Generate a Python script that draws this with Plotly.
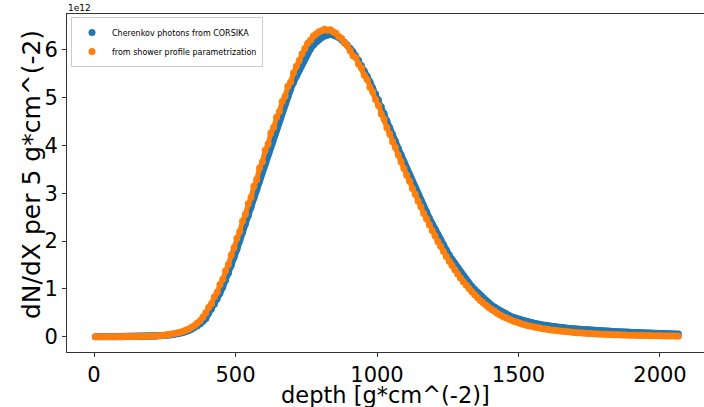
import plotly.graph_objects as go

# depth grid: first bin centre and bin step (g/cm^2)
DEPTH_START = 5
DEPTH_STEP = 10

# dN/dX per 5 g/cm^2, in units of 1e12
corsika = [
    0, 0, 0, 0, 0, 0, 0, 0, 0.001, 0.001,
    0.001, 0.002, 0.002, 0.003, 0.003, 0.004, 0.005, 0.006, 0.007, 0.008,
    0.010, 0.012, 0.015, 0.019, 0.023, 0.028, 0.034, 0.041, 0.050, 0.060,
    0.073, 0.089, 0.108, 0.131, 0.158, 0.190, 0.228, 0.272, 0.323, 0.382,
    0.49, 0.58, 0.68, 0.79, 0.91, 1.04, 1.18, 1.33, 1.49, 1.66,
    1.83, 2.01, 2.18, 2.36, 2.53, 2.71, 2.90, 3.08, 3.27, 3.46,
    3.64, 3.83, 4.01, 4.19, 4.37, 4.53, 4.70, 4.86, 5.02, 5.18,
    5.32, 5.45, 5.58, 5.70, 5.82, 5.93, 6.02, 6.10, 6.17, 6.22,
    6.26, 6.29, 6.31, 6.32, 6.31, 6.29, 6.26, 6.21, 6.16, 6.10,
    6.03, 5.96, 5.87, 5.78, 5.67, 5.56, 5.45, 5.33, 5.20, 5.08,
    4.95, 4.81, 4.67, 4.52, 4.37, 4.23, 4.09, 3.94, 3.80, 3.65,
    3.51, 3.38, 3.24, 3.11, 2.98, 2.86, 2.73, 2.61, 2.48, 2.36,
    2.25, 2.14, 2.03, 1.92, 1.81, 1.71, 1.62, 1.53, 1.44, 1.35,
    1.27, 1.19, 1.12, 1.05, 0.99, 0.93, 0.87, 0.81, 0.76, 0.71,
    0.66, 0.62, 0.58, 0.54, 0.51, 0.48, 0.45, 0.42, 0.40, 0.38,
    0.36, 0.34, 0.325, 0.31, 0.295, 0.282, 0.27, 0.258, 0.247, 0.237,
    0.227, 0.219, 0.211, 0.203, 0.196, 0.19, 0.184, 0.178, 0.172, 0.166,
    0.160, 0.156, 0.152, 0.148, 0.144, 0.140, 0.136, 0.132, 0.128, 0.124,
    0.120, 0.117, 0.114, 0.111, 0.108, 0.105, 0.102, 0.099, 0.096, 0.093,
    0.090, 0.088, 0.085, 0.083, 0.080, 0.078, 0.076, 0.073, 0.071, 0.069,
    0.067, 0.065, 0.063, 0.061, 0.059, 0.057, 0.055,
]

parametrization = [
    0, 0, 0, 0, 0, 0, 0, 0.001, 0.001, 0.001,
    0.002, 0.002, 0.003, 0.004, 0.005, 0.006, 0.007, 0.009, 0.010, 0.012,
    0.014, 0.017, 0.021, 0.026, 0.032, 0.039, 0.047, 0.057, 0.069, 0.081,
    0.095, 0.112, 0.138, 0.163, 0.20, 0.236, 0.285, 0.333, 0.41, 0.50,
    0.61, 0.69, 0.83, 0.93, 1.09, 1.20, 1.38, 1.51, 1.71, 1.86,
    2.06, 2.20, 2.42, 2.56, 2.78, 2.92, 3.15, 3.29, 3.53, 3.66,
    3.90, 4.03, 4.26, 4.38, 4.59, 4.71, 4.92, 5.03, 5.24, 5.33,
    5.52, 5.66, 5.78, 5.92, 6.03, 6.14, 6.20, 6.29, 6.33, 6.38,
    6.40, 6.43, 6.41, 6.42, 6.38, 6.35, 6.28, 6.24, 6.15, 6.09,
    5.98, 5.88, 5.84, 5.70, 5.62, 5.47, 5.38, 5.22, 5.12, 4.96,
    4.84, 4.66, 4.55, 4.37, 4.24, 4.08, 3.96, 3.80, 3.66, 3.52,
    3.38, 3.25, 3.10, 2.98, 2.84, 2.72, 2.58, 2.47, 2.34, 2.22,
    2.11, 1.99, 1.89, 1.78, 1.68, 1.58, 1.49, 1.40, 1.31, 1.23,
    1.15, 1.08, 1.01, 0.94, 0.88, 0.82, 0.76, 0.71, 0.66, 0.61,
    0.57, 0.53, 0.49, 0.455, 0.425, 0.395, 0.37, 0.345, 0.32, 0.30,
    0.28, 0.262, 0.246, 0.231, 0.217, 0.204, 0.192, 0.180, 0.169, 0.159,
    0.150, 0.142, 0.135, 0.128, 0.121, 0.114, 0.108, 0.102, 0.096, 0.090,
    0.085, 0.081, 0.076, 0.072, 0.068, 0.065, 0.062, 0.059, 0.056, 0.053,
    0.050, 0.048, 0.045, 0.043, 0.041, 0.039, 0.037, 0.035, 0.033, 0.032,
    0.030, 0.029, 0.027, 0.026, 0.025, 0.024, 0.022, 0.021, 0.020, 0.019,
    0.018, 0.017, 0.016, 0.015, 0.014, 0.013, 0.012,
]

series_names = ["Cherenkov photons from CORSIKA", "from shower profile parametrization"]
x_ticks = [0, 500, 1000, 1500, 2000]
y_ticks = [0, 1, 2, 3, 4, 5, 6]
x_title = "depth [g*cm^(-2)]"
y_title = "dN/dX per 5 g*cm^(-2)"
offset_text = "1e12"

depth_c = [DEPTH_START + DEPTH_STEP * i for i in range(len(corsika))]
depth_p = [DEPTH_START + DEPTH_STEP * i for i in range(len(parametrization))]

BLUE = "#1f77b4"
ORANGE = "#ff7f0e"
FONT = "DejaVu Sans"

fig = go.Figure()
# continuous bands behind the dense scatters
fig.add_trace(go.Scatter(x=depth_c, y=corsika, mode="lines",
                         line=dict(color=BLUE, width=6.5), showlegend=False,
                         hoverinfo="skip"))
fig.add_trace(go.Scatter(x=depth_c, y=corsika, mode="markers", name=series_names[0],
                         marker=dict(color=BLUE, size=7, line=dict(width=0))))
fig.add_trace(go.Scatter(x=depth_p, y=parametrization, mode="lines",
                         line=dict(color=ORANGE, width=5), showlegend=False,
                         hoverinfo="skip"))
fig.add_trace(go.Scatter(x=depth_p, y=parametrization, mode="markers", name=series_names[1],
                         marker=dict(color=ORANGE, size=7, line=dict(width=0))))

L, R, T, B = 67, 0, 14, 55
W, H = 704, 407
pw, ph = W - L - R, H - T - B

def px_x(p):
    return (p - L) / pw

def px_y(p):
    return (H - B - p) / ph

fig.update_layout(
    width=W, height=H,
    margin=dict(l=L, r=R, t=T, b=B, pad=0),
    paper_bgcolor="white", plot_bgcolor="white",
    font=dict(family=FONT, color="black"),
    xaxis=dict(range=[-95.4, 2155.5], tickvals=x_ticks, showgrid=False, zeroline=False,
               showline=True, linecolor="#333", linewidth=1, mirror=True,
               ticks="outside", ticklen=4, tickcolor="#333",
               tickfont=dict(size=21, family=FONT, color="black")),
    yaxis=dict(range=[-0.320, 6.751], tickvals=y_ticks, showgrid=False, zeroline=False,
               showline=True, linecolor="#333", linewidth=1,
               ticks="outside", ticklen=4, tickcolor="#333",
               tickfont=dict(size=21, family=FONT, color="black")),
    legend=dict(x=px_x(71), y=px_y(17), xanchor="left", yanchor="top",
                bordercolor="#cccccc", borderwidth=1, bgcolor="rgba(255,255,255,0.8)",
                font=dict(size=8, family=FONT, color="black"), tracegroupgap=0),
    showlegend=True,
    annotations=[
        dict(text=x_title, xref="paper", yref="paper", x=px_x(386), y=px_y(395),
             xanchor="center", yanchor="middle", showarrow=False,
             font=dict(size=22.5, family=FONT, color="black")),
        dict(text=y_title, xref="paper", yref="paper", x=px_x(31), y=px_y(175),
             xanchor="center", yanchor="middle", showarrow=False, textangle=-90,
             font=dict(size=25, family=FONT, color="black")),
        dict(text=offset_text, xref="paper", yref="paper", x=px_x(66), y=px_y(8),
             xanchor="left", yanchor="middle", showarrow=False,
             font=dict(size=9, family=FONT, color="black")),
    ],
)

fig.write_html("out.html")
